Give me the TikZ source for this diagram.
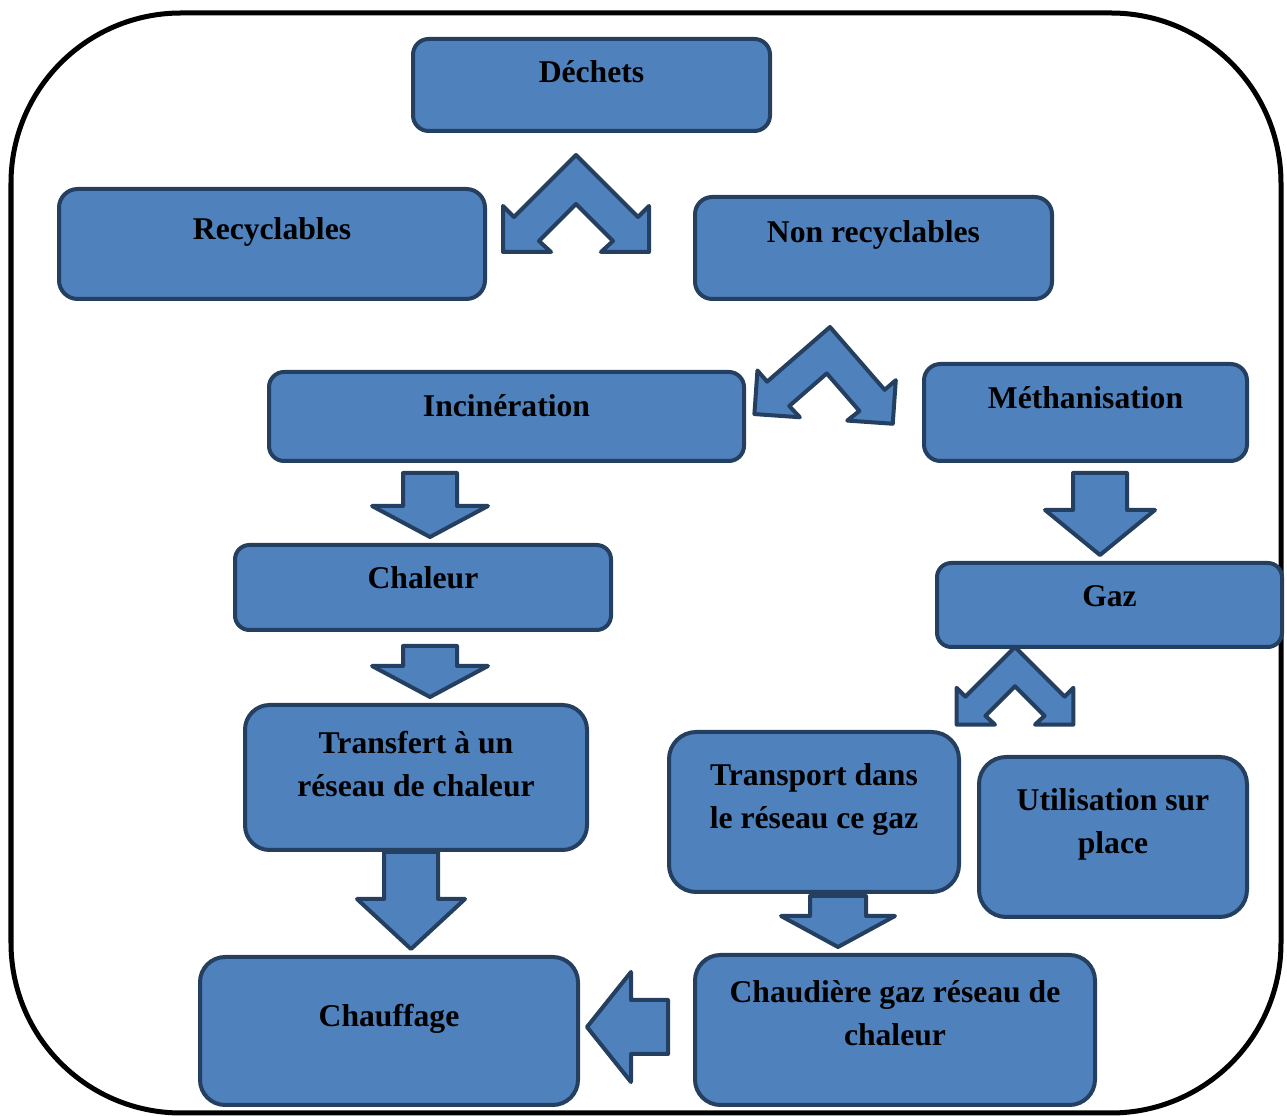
\documentclass[tikz,border=0pt]{standalone}
\usepackage{fontspec}
\setmainfont{Liberation Serif}
\usepackage{tikz}
\usetikzlibrary{calc,positioning}
\definecolor{bleu}{HTML}{4F81BD}
\definecolor{marine}{HTML}{243F60}
\newcommand{\pxu}{0.01cm}
\tikzset{
	boite/.style={draw=marine, fill=bleu, line width=0.04cm},
	texte/.style={font=\fontsize{9}{12.2}\selectfont\bfseries, align=center, inner sep=0pt, execute at begin node=\strut},
	fleche/.style={draw=marine, fill=bleu, line width=0.04cm, line join=round},
	cadre/.style={draw=black, line width=0.05cm, rounded corners=1.7cm}
}
% boite : nom, x, y (coin haut gauche), largeur, hauteur, ligne de base, texte
\newcommand{\boite}[7]{\node[boite, anchor=north west, minimum width=#4*\pxu, minimum height=#5*\pxu, rounded corners=#5*0.17*\pxu, label={[texte, anchor=north, yshift=-(#6-30)*\pxu]north:#7}] (#1) at (#2,#3) {};}
% fleche vers le bas : [ecart], abscisse, depart, arrivee, demi-corps, demi-tete, longueur de tete
\newcommand{\flecheBas}[7][10]{%
	\coordinate (queue) at ($(#2,0 |- #3.south)+(0,#1)$);
	\coordinate (pointe) at ($(#2,0 |- #4.north)+(0,-6)$);
	\draw[fleche] ($(queue)+(-#5,0)$) -- ($(queue)+(#5,0)$) -- ($(pointe)+(#5,-#7)$) -- ($(pointe)+(#6,-#7)$) -- (pointe) -- ($(pointe)+(-#6,-#7)$) -- ($(pointe)+(-#5,-#7)$) -- cycle;}
% fleche vers la gauche : ordonnee, depart, arrivee, demi-corps, demi-tete, longueur de tete
\newcommand{\flecheGauche}[6]{%
	\coordinate (queue) at ($(#2.west |- 0,#1)+(-25,0)$);
	\coordinate (pointe) at ($(#3.east |- 0,#1)+(7,0)$);
	\draw[fleche] ($(queue)+(0,-#4)$) -- ($(queue)+(0,#4)$) -- ($(pointe)+(#6,#4)$) -- ($(pointe)+(#6,#5)$) -- (pointe) -- ($(pointe)+(#6,-#5)$) -- ($(pointe)+(#6,-#4)$) -- cycle;}
% double fleche en chevron : sommet x, y, echelle, rotation
\newcommand{\chevronDouble}[4]{%
	\draw[fleche, shift={(#1,#2)}, rotate=#4, scale=#3] (0,0) -- (-62,62) -- (-73,51) -- (-73,97) -- (-25,97) -- (-37,86) -- (0,49) -- (37,86) -- (25,97) -- (73,97) -- (73,51) -- (62,62) -- cycle;}

\begin{document}
\begin{tikzpicture}[x=0.01cm, y=-0.01cm]
	\useasboundingbox (0,0) rectangle (1287,1116);
	\draw[cadre] (11,13) rectangle (1281,1113);
	% les boites
	\boite{dechets}{411}{37}{357}{92}{45}{Déchets}
	\boite{recycl}{57}{187}{426}{110}{52}{Recyclables}
	\boite{nonrecycl}{693}{195}{357}{102}{47}{Non recyclables}
	\boite{incin}{267}{370}{475}{89}{46}{Incinération}
	\boite{metha}{922}{362}{323}{97}{46}{Méthanisation}
	\boite{chaleur}{233}{543}{376}{85}{45}{Chaleur}
	\boite{gaz}{935}{561}{345}{84}{45}{Gaz}
	\boite{transfert}{243}{703}{342}{145}{58}{Transfert à un\\réseau de chaleur}
	\boite{transport}{667}{730}{290}{160}{63}{Transport dans\\le réseau ce gaz}
	\boite{utilis}{977}{755}{268}{160}{63}{Utilisation sur\\place}
	\boite{chauffage}{198}{955}{378}{148}{71}{Chauffage}
	\boite{chaudiere}{693}{953}{400}{150}{57}{Chaudière gaz réseau de\\chaleur}
	% les chevrons
	\chevronDouble{576}{155}{1}{0}
	\chevronDouble{830}{327}{0.95}{-4}
	\chevronDouble{1015}{647}{0.8}{0}
	% les fleches
	\flecheBas{430}{incin}{chaleur}{27}{58}{31}
	\flecheBas[14]{430}{chaleur}{transfert}{27}{58}{31}
	\flecheBas[0]{411}{transfert}{chauffage}{27}{54}{50}
	\flecheBas{1100}{metha}{gaz}{27}{55}{45}
	\flecheBas[2]{838}{transport}{chaudiere}{28}{57}{31}
	\flecheGauche{1027}{chaudiere}{chauffage}{27}{55}{44}
\end{tikzpicture}
\end{document}
